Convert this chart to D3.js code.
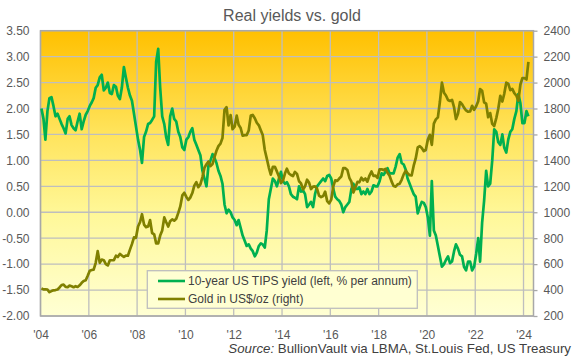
<!DOCTYPE html>
<html><head><meta charset="utf-8">
<script src="https://cdn.jsdelivr.net/npm/d3@7"></script>
<style>body{margin:0;background:#fff}svg{display:block;font-family:"Liberation Sans",Arial,sans-serif}</style>
</head><body><svg id="c" width="577" height="360"></svg>
<script>
// Monthly observations starting January 2004
const startYear = 2004;
const tipsYield = [
 2.00,1.80,1.40,1.95,2.20,2.22,2.05,1.85,1.90,1.80,1.70,1.62,
 1.52,1.80,1.85,1.68,1.62,1.58,1.75,1.90,1.60,1.75,1.88,1.95,
 2.05,2.12,2.20,2.40,2.45,2.60,2.65,2.35,2.40,2.50,2.30,2.28,
 2.45,2.42,2.25,2.18,2.40,2.80,2.60,2.40,2.25,2.15,1.90,1.65,
 1.40,1.20,0.95,1.45,1.55,1.70,1.72,1.78,1.85,2.90,3.15,2.40,
 1.85,1.70,1.45,1.30,1.85,2.00,1.80,1.75,1.55,1.45,1.25,1.20,
 1.40,1.45,1.55,1.62,1.40,1.30,1.20,1.10,0.80,0.65,0.50,0.90,
 1.00,1.12,1.05,0.95,0.80,0.70,0.55,0.15,-0.02,0.05,0.00,-0.10,
 -0.15,-0.25,-0.15,-0.30,-0.45,-0.55,-0.65,-0.62,-0.70,-0.75,-0.85,-0.78,
 -0.65,-0.60,-0.62,-0.68,-0.35,0.25,0.45,0.65,0.60,0.50,0.65,0.78,
 0.60,0.55,0.58,0.50,0.35,0.30,0.28,0.25,0.50,0.40,0.42,0.35,
 0.10,0.15,0.20,0.10,0.35,0.50,0.55,0.60,0.65,0.60,0.70,0.72,
 0.65,0.45,0.30,0.25,0.22,0.15,0.00,0.10,0.15,0.20,0.45,0.55,
 0.45,0.45,0.48,0.35,0.40,0.35,0.45,0.35,0.40,0.52,0.50,0.50,
 0.60,0.75,0.72,0.78,0.85,0.75,0.75,0.75,0.88,1.05,1.12,0.95,
 0.92,0.82,0.65,0.55,0.45,0.35,0.30,-0.02,0.10,0.20,0.18,0.10,
 -0.10,-0.45,0.60,-0.35,-0.45,-0.65,-0.85,-1.05,-1.00,-0.92,-0.85,-0.98,
 -0.95,-0.75,-0.62,-0.70,-0.82,-0.85,-1.05,-1.12,-0.95,-0.95,-1.12,-1.05,
 -0.80,-0.50,-0.95,-0.20,0.22,0.80,0.50,0.55,1.00,1.60,1.55,1.35,
 1.30,1.50,1.25,1.15,1.40,1.55,1.60,1.80,1.95,2.28,2.10,1.72,
 1.72,1.95,1.85
];
const goldPrice = [
 413,405,406,403,384,392,398,400,405,420,439,442,
 424,423,434,429,422,430,424,437,456,470,476,510,
 549,555,557,610,700,610,635,630,600,590,630,630,
 631,665,655,679,667,655,665,665,712,754,806,803,
 890,925,985,905,885,890,940,840,830,760,760,820,
 860,960,925,890,930,945,935,950,995,1045,1130,1150,
 1118,1095,1113,1148,1205,1232,1193,1215,1271,1342,1370,1391,
 1356,1372,1424,1474,1510,1529,1572,1790,1810,1670,1750,1640,
 1660,1745,1675,1650,1590,1595,1595,1630,1745,1750,1725,1690,
 1670,1630,1595,1480,1415,1345,1290,1350,1350,1315,1275,1225,
 1244,1300,1336,1299,1287,1279,1311,1296,1239,1222,1176,1200,
 1251,1227,1179,1198,1199,1181,1128,1117,1125,1159,1086,1068,
 1097,1200,1246,1242,1260,1276,1340,1340,1326,1266,1236,1152,
 1192,1234,1231,1266,1246,1260,1236,1283,1314,1280,1283,1265,
 1331,1331,1325,1335,1304,1282,1238,1202,1198,1215,1220,1250,
 1292,1320,1300,1286,1284,1359,1413,1500,1510,1495,1471,1480,
 1560,1597,1520,1683,1716,1732,1850,2000,1921,1900,1866,1858,
 1867,1808,1718,1760,1850,1834,1807,1785,1775,1777,1821,1790,
 1817,1856,1950,1937,1848,1837,1733,1765,1681,1665,1726,1798,
 1898,1854,1912,1999,1992,1942,1951,1918,1900,1860,1985,2034,
 2034,2024,2160
];
const leftTicks = [3.5,3,2.5,2,1.5,1,0.5,0,-0.5,-1,-1.5,-2];
const rightTicks = [2400,2200,2000,1800,1600,1400,1200,1000,800,600,400,200];
const xTickYears = [2004,2006,2008,2010,2012,2014,2016,2018,2020,2022,2024];
const seriesNames = ["10-year US TIPS yield (left, % per annum)", "Gold in US$/oz (right)"];
const titleText = "Real yields vs. gold";
const sourceLabel = "Source:";
const sourceText = " BullionVault via LBMA, St.Louis Fed, US Treasury";

const svg = d3.select("#c");
const L = 40.5, R = 533.5, T = 30.7, B = 316;
const x = d3.scaleTime().domain([new Date(2004,0,1), new Date(2024,4,31)]).range([L, R]);
const yL = d3.scaleLinear().domain([-2, 3.5]).range([B, T]);
const yR = d3.scaleLinear().domain([200, 2400]).range([B, T]);
const dates = tipsYield.map((_, i) => new Date(startYear, i, 15));

const defs = svg.append("defs");
const g = defs.append("linearGradient").attr("id","bg").attr("x1",0).attr("y1",0).attr("x2",0).attr("y2",1);
[[0,"#FFC000"],[0.35,"#FFE35A"],[0.65,"#FFF89A"],[1,"#FFFFD4"]].forEach(s => g.append("stop").attr("offset",s[0]).attr("stop-color",s[1]));

svg.append("rect").attr("x",L).attr("y",T).attr("width",R-L).attr("height",B-T).attr("fill","url(#bg)");

// gridlines
svg.append("g").selectAll("line").data(leftTicks).join("line")
  .attr("x1",L).attr("x2",R).attr("y1",d=>yL(d)).attr("y2",d=>yL(d))
  .attr("stroke","#BEBEBE").attr("stroke-width",1.3);
svg.append("g").selectAll("line").data(xTickYears).join("line")
  .attr("x1",d=>x(new Date(d,0,1))).attr("x2",d=>x(new Date(d,0,1))).attr("y1",T).attr("y2",B)
  .attr("stroke","#BEBEBE").attr("stroke-width",1.3);
svg.append("rect").attr("x",L).attr("y",T).attr("width",R-L).attr("height",B-T)
  .attr("fill","none").attr("stroke","#A8A8A8").attr("stroke-width",1.5);

// axes
const axL = svg.append("g").attr("transform",`translate(${L},0)`)
  .call(d3.axisLeft(yL).tickValues(leftTicks).tickSize(0).tickPadding(11).tickFormat(d=>d.toFixed(2)));
const axR = svg.append("g").attr("transform",`translate(${R},0)`)
  .call(d3.axisRight(yR).tickValues(rightTicks).tickSize(4).tickPadding(6).tickFormat(d=>String(d)));
const axB = svg.append("g").attr("transform",`translate(0,${B})`)
  .call(d3.axisBottom(x).tickValues(xTickYears.map(y=>new Date(y,0,1))).tickSize(0).tickPadding(14)
    .tickFormat(d=>"'"+String(d.getFullYear()).slice(2)));
[axL,axR,axB].forEach(a=>{
  a.select(".domain").remove();
  a.selectAll("text").attr("fill","#595959").style("font-size","12px").style("font-family",'"Liberation Sans",Arial,sans-serif');
  a.selectAll("line").attr("stroke","#A8A8A8").attr("stroke-width",1.3);
});

// lines
const lineL = d3.line().x((d,i)=>x(dates[i])).y(d=>yL(d));
const lineR = d3.line().x((d,i)=>x(dates[i])).y(d=>yR(d));
svg.append("path").datum(tipsYield).attr("d",lineL).attr("fill","none").attr("stroke","#00B050").attr("stroke-width",2.7).attr("stroke-linejoin","round");
svg.append("path").datum(goldPrice).attr("d",lineR).attr("fill","none").attr("stroke","#808000").attr("stroke-width",2.7).attr("stroke-linejoin","round");

// title
svg.append("text").attr("x",292).attr("y",21).attr("text-anchor","middle")
  .attr("fill","#595959").style("font-size","16px").text(titleText);

// legend
const lg = svg.append("g");
lg.append("rect").attr("x",147.3).attr("y",270.7).attr("width",270).attr("height",37.6)
  .attr("fill","#FFFFD2").attr("stroke","#BEBEBE").attr("stroke-width",1.3);
const colors = ["#00B050","#808000"];
seriesNames.forEach((n,i)=>{
  const yy = 281 + i*18;
  lg.append("line").attr("x1",158).attr("x2",185).attr("y1",yy).attr("y2",yy).attr("stroke",colors[i]).attr("stroke-width",2.6);
  lg.append("text").attr("x",188).attr("y",yy).attr("dy","0.35em").attr("fill","#404040").style("font-size","12px").text(n);
});

// source
const st = svg.append("text").attr("x",571).attr("y",352.5).attr("text-anchor","end").attr("fill","#404040").style("font-size","13.3px");
st.append("tspan").style("font-style","italic").text(sourceLabel);
st.append("tspan").text(sourceText);
</script></body></html>
